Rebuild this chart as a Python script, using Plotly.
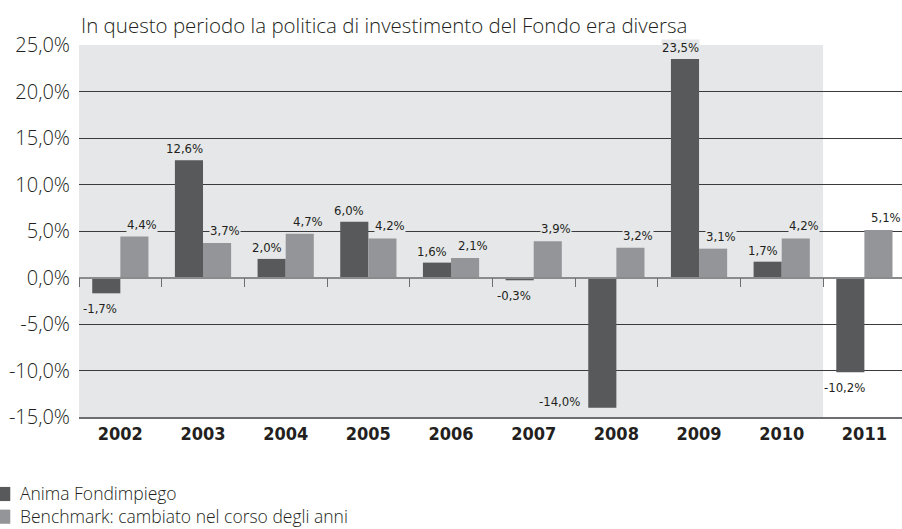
import plotly.graph_objects as go

anni = ["2002", "2003", "2004", "2005", "2006", "2007", "2008", "2009", "2010", "2011"]
fondo = [-1.7, 12.6, 2.0, 6.0, 1.6, -0.3, -14.0, 23.5, 1.7, -10.2]
benchmark = [4.4, 3.7, 4.7, 4.2, 2.1, 3.9, 3.2, 3.1, 4.2, 5.1]
y_ticks = [25, 20, 15, 10, 5, 0, -5, -10, -15]

titolo = "In questo periodo la politica di investimento del Fondo era diversa"
nome_fondo = "Anima Fondimpiego"
nome_bench = "Benchmark: cambiato nel corso degli anni"

DARK = "#58595b"
LIGHT = "#939598"
SHADE = "#e6e7e8"
TXT = "#231f20"
LABEL_FONT = dict(family="DejaVu Sans Condensed", size=13, color=TXT)
LIGHT_TXT = dict(family="Open Sans", color=TXT, weight=300)
X_RANGE = [-0.5, 9.455]   # last year runs past the right edge, as in the original


def fmt(v):
    return f"{v:.1f}%".replace(".", ",")


fig = go.Figure()
fig.add_trace(go.Bar(name=nome_fondo, x=anni, y=fondo, marker_color=DARK,
                     marker_line_width=0, showlegend=False))
fig.add_trace(go.Bar(name=nome_bench, x=anni, y=benchmark, marker_color=LIGHT,
                     marker_line_width=0, showlegend=False))

# shaded period (2002-2010)
fig.add_shape(type="rect", xref="x", yref="paper", x0=-0.5, x1=8.5, y0=0, y1=1,
              fillcolor=SHADE, line_width=0, layer="below")

# data labels (x given as category index)
for i, a in enumerate(anni):
    bg = SHADE if i < 9 else "white"
    v = fondo[i]
    if v < -12:
        fig.add_annotation(x=i, y=v, text=fmt(v), showarrow=False, font=LABEL_FONT,
                           xanchor="right", yanchor="middle", xshift=-35, yshift=6,
                           bgcolor=bg, borderpad=0)
    elif v < 0:
        fig.add_annotation(x=i, y=v, text=fmt(v), showarrow=False, font=LABEL_FONT,
                           yanchor="top", xshift=-20, yshift=-7,
                           bgcolor=bg, borderpad=0)
    else:
        fig.add_annotation(x=i, y=v, text=fmt(v), showarrow=False, font=LABEL_FONT,
                           yanchor="bottom", xshift=-19, yshift=3,
                           bgcolor=bg, borderpad=0)
    b = benchmark[i]
    fig.add_annotation(x=i, y=b, text=fmt(b), showarrow=False, font=LABEL_FONT,
                       yanchor="bottom", xshift=22, yshift=4,
                       bgcolor=bg, borderpad=0)

fig.add_annotation(xref="paper", yref="paper", x=0, y=1, yshift=4,
                   xanchor="left", yanchor="bottom", text=titolo, showarrow=False,
                   font=dict(LIGHT_TXT, size=20.5))

# legend drawn below the chart, flush with the left edge
for col, yc in [(DARK, -0.207), (LIGHT, -0.268)]:
    fig.add_shape(type="rect", xref="paper", yref="paper", x0=-0.1, x1=-0.0835,
                  y0=yc - 0.019, y1=yc + 0.019, fillcolor=col, line_width=0)
fig.add_annotation(xref="paper", yref="paper", x=-0.0735, y=-0.236,
                   text=nome_fondo + "<br>" + nome_bench, showarrow=False,
                   xanchor="left", yanchor="middle", align="left", borderpad=0,
                   font=dict(LIGHT_TXT, size=17.5))

fig.update_layout(
    width=902, height=529,
    margin=dict(l=79, r=0, t=45, b=112, autoexpand=False),
    paper_bgcolor="white", plot_bgcolor="white",
    barmode="group", bargap=0.32, bargroupgap=0,
    showlegend=False,
    xaxis=dict(type="category", range=X_RANGE, showgrid=False, zeroline=False,
               showline=True, linecolor="#6d6e71", linewidth=1.5, ticks="",
               automargin=False,
               tickfont=dict(family="DejaVu Sans Condensed", size=18, color=TXT,
                             weight="bold")),
    # zero line with separators between years
    xaxis2=dict(overlaying="x", anchor="free", position=0.375, range=X_RANGE,
                showgrid=False, zeroline=False, showline=True, linecolor="#8a8b8d",
                linewidth=1.5, ticks="outside", ticklen=9, tickwidth=1,
                tickcolor="#6d6e71", tickvals=[-0.5, 0.5, 1.5, 2.5, 3.5, 4.5, 5.5, 6.5, 7.5, 8.5],
                showticklabels=False),
    yaxis=dict(range=[-15, 25], tickvals=y_ticks, ticktext=[fmt(t) for t in y_ticks],
               showgrid=True, gridcolor="#3b3b3d", gridwidth=1, zeroline=False,
               showline=False, ticks="", ticklabelstandoff=8, automargin=False,
               tickfont=dict(LIGHT_TXT, size=20)),
)
# invisible helper trace so xaxis2 is drawn
fig.add_trace(go.Scatter(x=[None], y=[None], xaxis="x2", showlegend=False,
                         hoverinfo="skip"))

fig.write_html("out.html", config={"displayModeBar": False},
               post_script="document.body.style.margin='0';")
